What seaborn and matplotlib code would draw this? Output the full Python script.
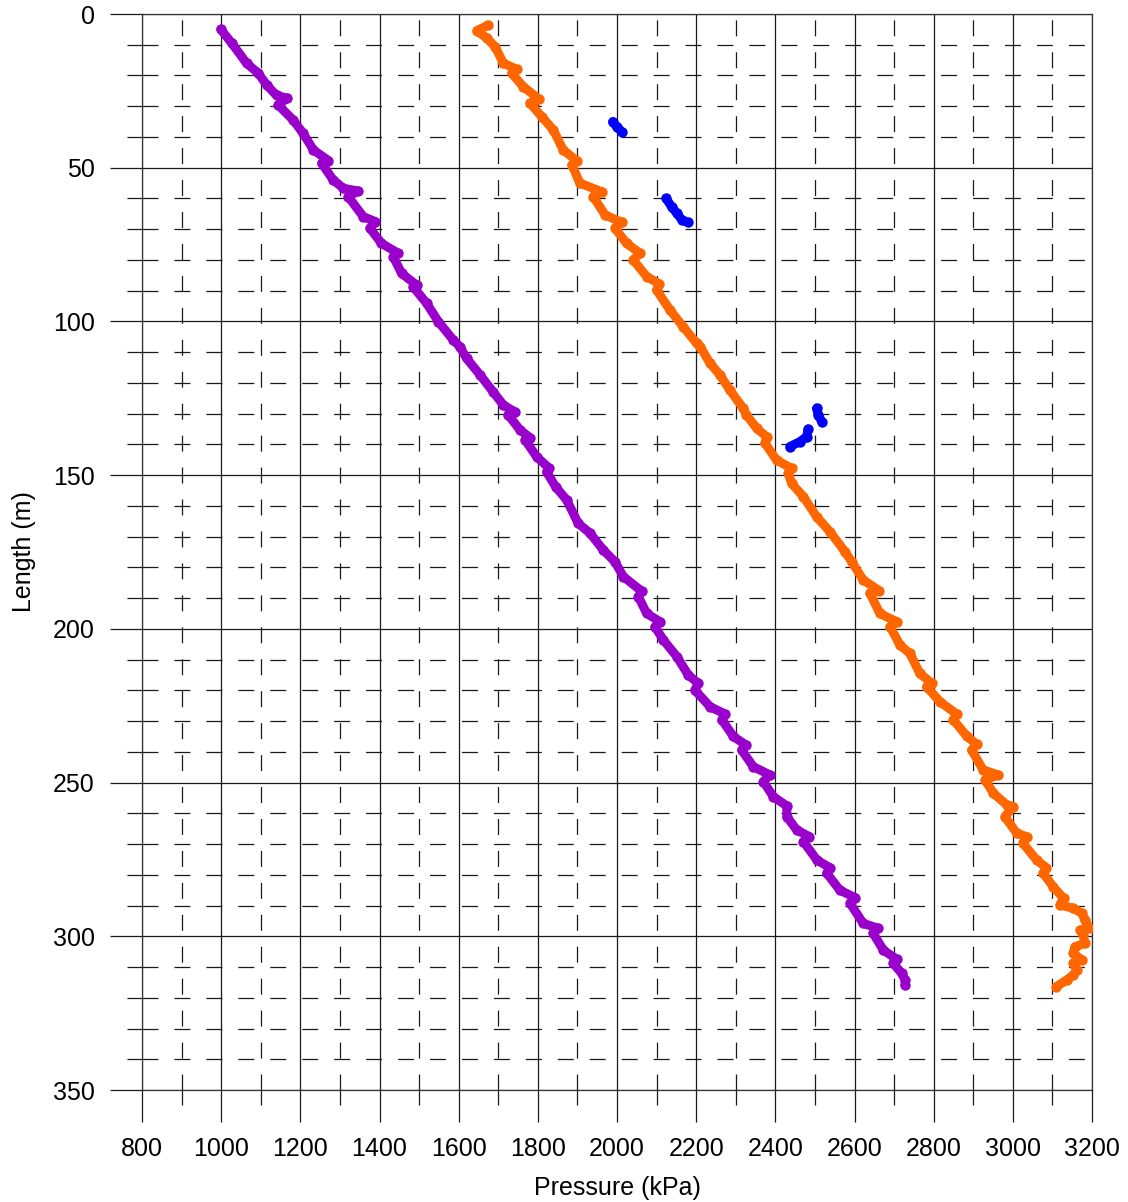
import numpy as np
import pandas as pd
import matplotlib
matplotlib.use("Agg")
import matplotlib.pyplot as plt
from matplotlib.ticker import MultipleLocator
import seaborn as sns

# ---------------- data ----------------
purple_length = [5.0, 9.5, 16.0, 19.3, 23.1, 26.5, 27.4, 29.6, 34.5, 38.8, 44.2, 47.7, 48.6,
                 54.0, 56.7, 57.6, 59.4, 65.9, 67.5, 69.7, 74.6, 77.8, 79.0, 84.4, 88.2, 88.7,
                 94.1, 100.1, 106.0, 108.2, 112.0, 117.4, 122.9, 127.2, 129.4, 130.4, 135.3,
                 137.8, 138.6, 144.0, 147.8, 148.9, 153.8, 158.1, 165.7, 168.9, 174.3, 178.2,
                 183.0, 187.7, 189.5, 195.0, 197.7, 199.3, 203.6, 209.0, 215.0, 217.7, 220.0,
                 225.3, 227.7, 229.6, 235.0, 237.8, 239.4, 244.8, 247.5, 249.7, 254.6, 257.6,
                 261.1, 265.4, 267.6, 269.2, 275.2, 277.7, 279.5, 285.0, 287.4, 289.3, 295.8,
                 297.4, 299.0, 304.5, 307.5, 308.8, 312.0, 314.2, 315.8]
purple_pressure = [999, 1027, 1064, 1094, 1115, 1140, 1167, 1144, 1182, 1207, 1233, 1271, 1254,
                   1283, 1309, 1346, 1321, 1359, 1389, 1376, 1405, 1447, 1435, 1456, 1494, 1485,
                   1519, 1549, 1586, 1603, 1620, 1654, 1687, 1713, 1742, 1725, 1755,
                   1780, 1768, 1797, 1829, 1822, 1845, 1873, 1902, 1932, 1965, 1995,
                   2016, 2062, 2054, 2075, 2109, 2096, 2117, 2151, 2180, 2205, 2197,
                   2235, 2273, 2265, 2294, 2326, 2315, 2344, 2386, 2370, 2395, 2429,
                   2429, 2454, 2486, 2471, 2505, 2538, 2530, 2563, 2601, 2589, 2622,
                   2660, 2647, 2673, 2707, 2698, 2719, 2728, 2728]

orange_length = [3.6, 5.4, 7.9, 10.6, 16.0, 18.0, 19.3, 23.6, 27.8, 29.0, 33.4, 37.7, 44.2,
                 47.7, 49.1, 55.0, 57.8, 59.4, 65.4, 67.8, 69.7, 74.6, 77.8, 80.0, 85.4, 87.8,
                 89.8, 96.3, 101.7, 107.1, 108.2, 113.6, 117.4, 122.3, 128.3, 130.4, 134.8,
                 137.5, 139.6, 145.1, 147.8, 149.4, 152.7, 157.0, 163.5, 168.4, 174.9, 178.2,
                 184.1, 187.6, 188.4, 195.0, 197.7, 199.3, 205.3, 208.0, 214.5, 217.7, 218.8,
                 223.7, 227.7, 229.6, 235.0, 237.6, 239.4, 245.9, 247.5, 249.2, 253.5, 257.3,
                 257.8, 261.1, 266.5, 267.6, 269.8, 275.2, 277.7, 279.5, 283.9, 287.6, 289.8,
                 290.9, 292.5, 294.7, 297.4, 298.0, 299.6, 302.3, 303.4, 305.5, 307.7, 308.8,
                 311.0, 312.6, 314.2, 316.4]
orange_pressure = [1675, 1646, 1671, 1692, 1713, 1747, 1734, 1763, 1804, 1780, 1810, 1839, 1864,
                   1898, 1886, 1906, 1961, 1940, 1970, 2013, 1995, 2024, 2058, 2041, 2075, 2107,
                   2100, 2134, 2167, 2201, 2210, 2235, 2260, 2285, 2319, 2327, 2353,
                   2378, 2374, 2403, 2441, 2433, 2441, 2471, 2504, 2538, 2576, 2593,
                   2622, 2663, 2639, 2664, 2707, 2690, 2715, 2740, 2765, 2795, 2782,
                   2816, 2858, 2850, 2884, 2909, 2896, 2925, 2963, 2930, 2951, 2985,
                   3001, 2980, 3010, 3035, 3026, 3060, 3085, 3077, 3102, 3128, 3119,
                   3153, 3174, 3182, 3193, 3170, 3178, 3182, 3157, 3153, 3174, 3153,
                   3161, 3153, 3136, 3110]

blue_length = [35.0, 36.6, 38.3,
               60.0, 62.7, 64.8, 67.0, 67.8,
               140.7, 139.1, 137.5, 135.0,
               128.3, 130.4, 132.6]
blue_pressure = [1989, 1999, 2012,
                 2124, 2138, 2151, 2164, 2180,
                 2437, 2462, 2479, 2483,
                 2504, 2509, 2517]
blue_segment = [1, 1, 1, 2, 2, 2, 2, 2, 3, 3, 3, 3, 4, 4, 4]

series_colors = {"purple": "#9900CC", "orange": "#FF6600", "blue": "#0000FF"}

# ---------------- table ----------------
frames = [
    pd.DataFrame({"pressure": purple_pressure, "length": purple_length,
                  "series": "purple", "segment": "p0"}),
    pd.DataFrame({"pressure": orange_pressure, "length": orange_length,
                  "series": "orange", "segment": "o0"}),
    pd.DataFrame({"pressure": blue_pressure, "length": blue_length,
                  "series": "blue", "segment": ["b%d" % s for s in blue_segment]}),
]
df = pd.concat(frames, ignore_index=True)

# ---------------- figure ----------------
sns.set_theme(style="white")
plt.rcParams["font.family"] = ["Liberation Sans", "DejaVu Sans"]
plt.rcParams["axes.unicode_minus"] = False

fig = plt.figure(figsize=(11.28, 12.02), dpi=100)
ax = fig.add_axes([142 / 1128, 112 / 1202, 950 / 1128, 1076 / 1202])

sns.lineplot(data=df, x="pressure", y="length", hue="series", units="segment",
             estimator=None, sort=False, palette=series_colors, legend=False,
             linewidth=6.5, marker="o", markersize=7.5, markeredgewidth=0,
             solid_joinstyle="round", solid_capstyle="round",
             ax=ax, zorder=5)

ax.set_xlim(800, 3200)
ax.set_ylim(350, 0)

ax.xaxis.set_major_locator(MultipleLocator(200))
ax.xaxis.set_minor_locator(MultipleLocator(100))
ax.yaxis.set_major_locator(MultipleLocator(50))
ax.yaxis.set_minor_locator(MultipleLocator(10))

lw = 0.9
dash = 11.5 / lw
ax.set_axisbelow(True)
ax.grid(which="major", color="#1a1a1a", linewidth=lw, linestyle="-")
ax.grid(which="minor", color="#1a1a1a", linewidth=lw, linestyle=(0, (dash, dash)))

for s in ax.spines.values():
    s.set_color("#333333")
    s.set_linewidth(lw)

ax.tick_params(axis="both", which="major", direction="out", length=23, width=lw,
               color="#1a1a1a", labelsize=18, labelcolor="black",
               bottom=True, left=True, top=False, right=False)
ax.tick_params(axis="both", which="minor", direction="out", length=10.8, width=lw,
               color="#1a1a1a", bottom=True, left=True, top=False, right=False)
ax.tick_params(axis="x", which="major", pad=11)
ax.tick_params(axis="y", which="major", pad=11)

ax.set_xlabel("Pressure (kPa)", fontsize=18, color="black", labelpad=11)
ax.set_ylabel("Length (m)", fontsize=18, color="black", labelpad=12)

fig.savefig("out.png", dpi=100, facecolor="white")
